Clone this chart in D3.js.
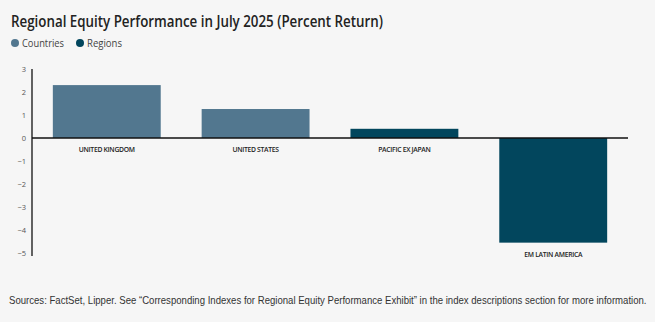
<!DOCTYPE html>
<html><head><meta charset="utf-8">
<script src="https://cdn.jsdelivr.net/npm/d3@7"></script>
<style>
html,body{margin:0;padding:0;background:#f6f6f6;}
svg{display:block;font-family:"Open Sans","Noto Sans",sans-serif;}
</style></head>
<body>
<svg id="c" width="655" height="322"></svg>
<script>
const categories = ["UNITED KINGDOM","UNITED STATES","PACIFIC EX JAPAN","EM LATIN AMERICA"];
const values = [2.3, 1.26, 0.4, -4.55];
const groups = ["Countries","Countries","Regions","Regions"];
const legendLabels = ["Countries","Regions"];
const yTicks = [3,2,1,0,-1,-2,-3,-4,-5];

const colors = {Countries:"#52778f", Regions:"#02465d"};
const svg = d3.select("#c");
svg.append("rect").attr("width",655).attr("height",322).attr("fill","#f6f6f6");

svg.append("text").attr("x",11).attr("y",27)
  .attr("font-size",15.5).attr("font-weight",600).attr("fill","#222")
  .attr("textLength",372).attr("lengthAdjust","spacingAndGlyphs")
  .text("Regional Equity Performance in July 2025 (Percent Return)");

const lg = svg.append("g");
const lxs = [15,80];
const lwidths = [42,35];
legendLabels.forEach((l,i)=>{
  lg.append("circle").attr("cx",lxs[i]).attr("cy",43).attr("r",4).attr("fill",colors[l]);
  lg.append("text").attr("x",lxs[i]+7).attr("y",47).attr("font-size",11).attr("fill","#444")
    .attr("textLength",lwidths[i]).attr("lengthAdjust","spacingAndGlyphs").text(l);
});

const x = d3.scaleBand().domain(categories).range([32,628]).paddingInner(0.275).paddingOuter(0.14);
const y = d3.scaleLinear().domain([-5,3]).range([253,69]);

const yAxis = svg.append("g").attr("transform","translate(32,0)")
  .call(d3.axisLeft(y).tickValues(yTicks).tickSize(0).tickPadding(6).tickFormat(d3.format("d")));
yAxis.select(".domain").attr("stroke","#111").attr("stroke-width",1.3).attr("d","M0,69V256");
yAxis.selectAll("text").attr("font-size",7.5).attr("fill","#555").attr("font-family","Open Sans, sans-serif");

svg.append("g").selectAll("rect").data(categories).join("rect")
  .attr("x",d=>x(d)).attr("width",x.bandwidth())
  .attr("y",(d,i)=>y(Math.max(0,values[i])))
  .attr("height",(d,i)=>Math.abs(y(values[i])-y(0)))
  .attr("fill",(d,i)=>colors[groups[i]]);

svg.append("line").attr("x1",32).attr("x2",628).attr("y1",y(0)).attr("y2",y(0))
  .attr("stroke","#111").attr("stroke-width",1.3);

svg.append("g").selectAll("text").data(categories).join("text")
  .attr("x",d=>x(d)+x.bandwidth()/2)
  .attr("y",(d,i)=>(values[i]<0? y(values[i]) : y(0))+14)
  .attr("text-anchor","middle").attr("font-size",6.8).attr("font-weight",600)
  .attr("letter-spacing",-0.3).attr("fill","#222").text(d=>d);

const src = svg.append("g").attr("transform","translate(9,304)")
  .append("text").attr("x",0).attr("y",0).attr("font-size",10.5).attr("fill","#333")
  .attr("font-family","'Liberation Sans',Arial,sans-serif")
  .text("Sources: FactSet, Lipper. See \u201CCorresponding Indexes for Regional Equity Performance Exhibit\u201D in the index descriptions section for more information.");
const natW = src.node().getComputedTextLength();
src.attr("transform",`scale(${638/natW},1)`);
</script>
</body></html>
